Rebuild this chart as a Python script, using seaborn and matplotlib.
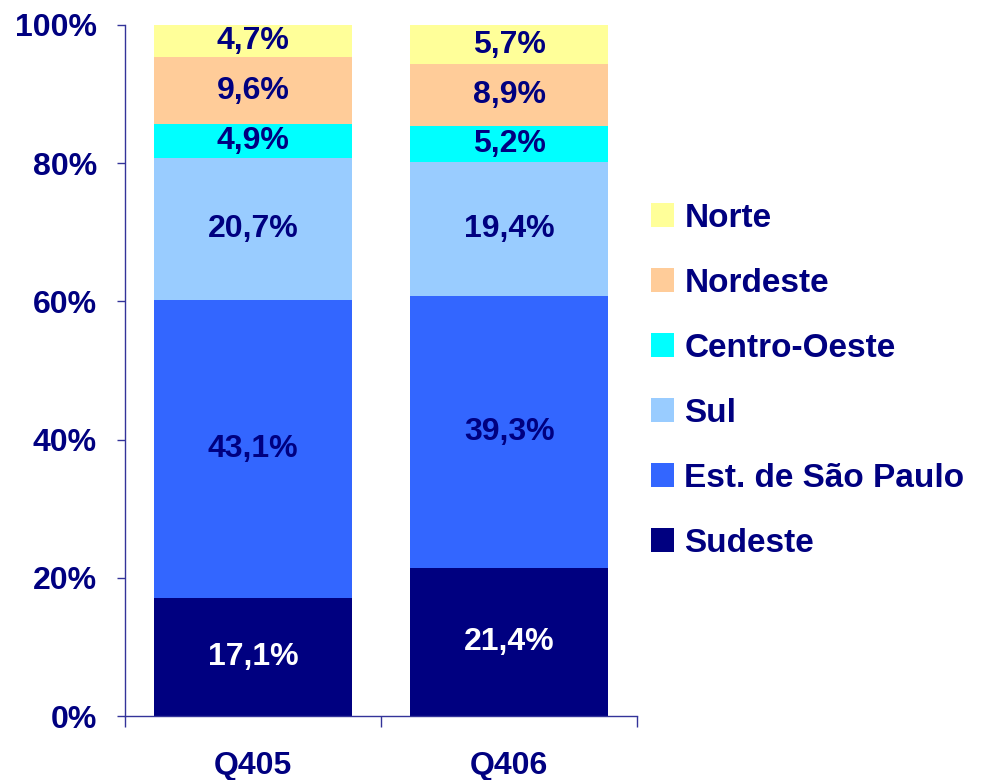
import seaborn as sns
import pandas as pd
import numpy as np
import matplotlib.pyplot as plt
from matplotlib.patches import Patch

# data (percent shares)
quarters = ['Q405', 'Q406']
regions = ['Sudeste', 'Est. de São Paulo', 'Sul', 'Centro-Oeste', 'Nordeste', 'Norte']
sudeste = [17.1, 21.4]
sao_paulo = [43.1, 39.3]
sul = [20.7, 19.4]
centro_oeste = [4.9, 5.2]
nordeste = [9.6, 8.9]
norte = [4.7, 5.7]
labels = {
    'Sudeste': ['17,1%', '21,4%'],
    'Est. de São Paulo': ['43,1%', '39,3%'],
    'Sul': ['20,7%', '19,4%'],
    'Centro-Oeste': ['4,9%', '5,2%'],
    'Nordeste': ['9,6%', '8,9%'],
    'Norte': ['4,7%', '5,7%'],
}

colors = ['#000080', '#3366FF', '#99CCFF', '#00FFFF', '#FFCC99', '#FFFF99']
text_colors = ['white', '#000080', '#000080', '#000080', '#000080', '#000080']
navy = '#000080'

df = pd.DataFrame({'Sudeste': sudeste, 'Est. de São Paulo': sao_paulo, 'Sul': sul,
                   'Centro-Oeste': centro_oeste, 'Nordeste': nordeste, 'Norte': norte},
                  index=quarters)
# 100% stacked, like the original
df = df.div(df.sum(axis=1), axis=0) * 100

sns.set_style('white')
plt.rcParams['font.family'] = ['Liberation Sans', 'DejaVu Sans']
plt.rcParams['font.weight'] = 'bold'

fig = plt.figure(figsize=(9.91, 7.8), dpi=100)
ax = fig.add_axes([0.126, 0.082, 0.517, 0.886])

bottom = np.zeros(len(quarters))
for reg, col, tcol in zip(regions, colors, text_colors):
    vals = df[reg].values
    sns.barplot(x=quarters, y=vals, bottom=bottom, color=col, width=0.77,
                saturation=1, ax=ax, linewidth=0)
    for i, v in enumerate(vals):
        ax.text(i, bottom[i] + v / 2, labels[reg][i], ha='center', va='center',
                color=tcol, fontsize=23, fontweight='bold')
    bottom = bottom + vals

ax.set_xlim(-0.5, 1.5)
ax.set_ylim(0, 100)
ax.set_yticks([0, 20, 40, 60, 80, 100])
ax.set_yticklabels(['0%', '20%', '40%', '60%', '80%', '100%'])
ax.set_xticks([-0.5, 0.5, 1.5])
ax.set_xticklabels([])
ax.set_xticks([0, 1], minor=True)
ax.set_xticklabels(quarters, minor=True)
ax.tick_params(axis='x', which='major', bottom=True, direction='out', length=8,
               color='#333399', width=1)
ax.tick_params(axis='x', which='minor', bottom=True, length=0, pad=25, labelsize=23,
               labelcolor=navy)
ax.tick_params(axis='y', left=True, direction='out', length=6, color='#333399', width=1,
               labelsize=23, labelcolor=navy, pad=14)
for lab in ax.get_xticklabels(minor=True) + ax.get_yticklabels():
    lab.set_fontweight('bold')

for s in ['top', 'right']:
    ax.spines[s].set_visible(False)
for s in ['left', 'bottom']:
    ax.spines[s].set_color('#333399')
    ax.spines[s].set_linewidth(1)
ax.set_xlabel('')
ax.set_ylabel('')

handles = [Patch(facecolor=c, edgecolor='none') for c in colors][::-1]
leg = fig.legend(handles, regions[::-1], loc='upper left', bbox_to_anchor=(0.657, 0.740),
                 frameon=False, fontsize=24, handlelength=0.7, handleheight=0.7,
                 handletextpad=0.3, labelspacing=1.02, borderpad=0, borderaxespad=0)
for t in leg.get_texts():
    t.set_color(navy)
    t.set_fontweight('bold')

fig.savefig('out.png', dpi=100)
